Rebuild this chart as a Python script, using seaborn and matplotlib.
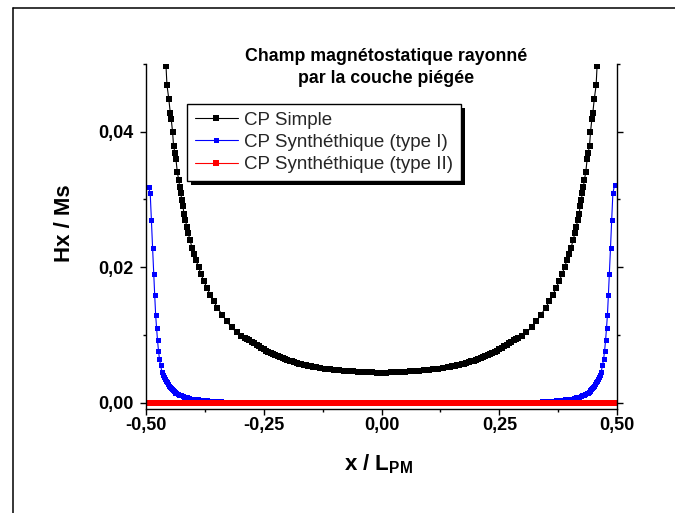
import matplotlib
matplotlib.use('Agg')
import matplotlib.pyplot as plt
import matplotlib.patheffects as pe
from matplotlib.lines import Line2D
from matplotlib.ticker import FixedLocator, FuncFormatter
import pandas as pd
import seaborn as sns

# CP Simple (black): steep left edge, dense middle, steep right edge
simple_x_left = [-0.460, -0.457, -0.455, -0.451, -0.448, -0.446, -0.443, -0.441, -0.438,
                 -0.436, -0.433, -0.430, -0.428, -0.426, -0.423, -0.421, -0.419, -0.416,
                 -0.413, -0.410, -0.406, -0.402, -0.397, -0.393, -0.388, -0.383, -0.377,
                 -0.370, -0.363, -0.356, -0.348, -0.338, -0.328, -0.318, -0.307, -0.298]
simple_hx_left = [0.0525, 0.0497, 0.0469, 0.0448, 0.0428, 0.0419, 0.0399, 0.0379, 0.0369,
                  0.0360, 0.0340, 0.0329, 0.0318, 0.0309, 0.0299, 0.0290, 0.0279, 0.0270,
                  0.0260, 0.0250, 0.0240, 0.0229, 0.0220, 0.0210, 0.0200, 0.0190, 0.0180,
                  0.0169, 0.0159, 0.0150, 0.0140, 0.0130, 0.0120, 0.0111, 0.0104, 0.0099]
simple_x_midleft = [-0.290, -0.285, -0.280, -0.275, -0.270, -0.265, -0.260, -0.255, -0.250, -0.245,
                    -0.240, -0.235, -0.230, -0.225, -0.220, -0.215, -0.210, -0.205, -0.200, -0.195,
                    -0.190, -0.185, -0.180, -0.175, -0.170, -0.165, -0.160, -0.155, -0.150, -0.145]
simple_hx_midleft = [0.00962, 0.00941, 0.00920, 0.00897, 0.00874, 0.00852, 0.00830, 0.00810, 0.00790, 0.00770,
                     0.00750, 0.00732, 0.00715, 0.00699, 0.00683, 0.00669, 0.00655, 0.00642, 0.00630, 0.00619,
                     0.00608, 0.00597, 0.00587, 0.00577, 0.00568, 0.00559, 0.00551, 0.00543, 0.00536, 0.00529]
simple_x_center = [-0.14, -0.13, -0.12, -0.11, -0.10, -0.09, -0.08, -0.07, -0.06, -0.05,
                   -0.04, -0.03, -0.02, -0.01, 0.00, 0.01, 0.02, 0.03, 0.04, 0.05,
                   0.06, 0.07, 0.08, 0.09, 0.10, 0.11, 0.12, 0.13, 0.14]
simple_hx_center = [0.00523, 0.00512, 0.00502, 0.00493, 0.00485, 0.00478, 0.00472, 0.00467, 0.00461, 0.00456,
                    0.00452, 0.00449, 0.00447, 0.00445, 0.00445, 0.00445, 0.00447, 0.00449, 0.00452, 0.00456,
                    0.00461, 0.00467, 0.00472, 0.00478, 0.00485, 0.00493, 0.00502, 0.00512, 0.00523]
simple_x_midright = [0.145, 0.150, 0.155, 0.160, 0.165, 0.170, 0.175, 0.180, 0.185, 0.190,
                     0.195, 0.200, 0.205, 0.210, 0.215, 0.220, 0.225, 0.230, 0.235, 0.240,
                     0.245, 0.250, 0.255, 0.260, 0.265, 0.270, 0.275, 0.280, 0.285, 0.290]
simple_hx_midright = [0.00529, 0.00536, 0.00543, 0.00551, 0.00559, 0.00568, 0.00577, 0.00587, 0.00597, 0.00608,
                      0.00619, 0.00630, 0.00642, 0.00655, 0.00669, 0.00683, 0.00699, 0.00715, 0.00732, 0.00750,
                      0.00770, 0.00790, 0.00810, 0.00830, 0.00852, 0.00874, 0.00897, 0.00920, 0.00941, 0.00962]
simple_x_right = [0.298, 0.307, 0.318, 0.328, 0.338, 0.348, 0.356, 0.363, 0.370,
                  0.377, 0.383, 0.388, 0.393, 0.397, 0.402, 0.406, 0.410, 0.413,
                  0.416, 0.419, 0.421, 0.423, 0.426, 0.428, 0.430, 0.433, 0.436,
                  0.438, 0.441, 0.443, 0.446, 0.448, 0.451, 0.455, 0.457, 0.460]
simple_hx_right = [0.0099, 0.0104, 0.0111, 0.0120, 0.0130, 0.0140, 0.0150, 0.0159, 0.0169,
                   0.0180, 0.0190, 0.0200, 0.0210, 0.0220, 0.0229, 0.0240, 0.0250, 0.0260,
                   0.0270, 0.0279, 0.0290, 0.0299, 0.0309, 0.0318, 0.0329, 0.0340, 0.0360,
                   0.0369, 0.0379, 0.0399, 0.0419, 0.0428, 0.0448, 0.0469, 0.0497, 0.0525]

# CP Synthethique type I (blue)
typeI_x_left = [-0.494, -0.4905, -0.488, -0.4855, -0.483, -0.481, -0.479, -0.477, -0.475, -0.473,
                -0.471, -0.4685, -0.4655, -0.463, -0.461, -0.459, -0.457, -0.455, -0.453, -0.451,
                -0.449, -0.447, -0.445, -0.443, -0.441, -0.439, -0.437, -0.435, -0.432, -0.429,
                -0.426, -0.422, -0.418, -0.413, -0.408, -0.400, -0.390, -0.380, -0.370, -0.360,
                -0.350, -0.340, -0.320, -0.300, -0.280, -0.250]
typeI_hx_left = [0.0319, 0.0309, 0.0270, 0.0229, 0.0190, 0.0159, 0.0130, 0.0110, 0.0092, 0.0077,
                 0.0065, 0.0055, 0.0045, 0.0041, 0.0038, 0.0035, 0.0032, 0.0030, 0.0027, 0.0025,
                 0.0023, 0.0021, 0.0020, 0.0018, 0.0017, 0.0016, 0.0015, 0.0014, 0.0013, 0.0012,
                 0.0011, 0.0010, 0.0009, 0.0008, 0.0007, 0.0006, 0.0005, 0.0004, 0.00035, 0.0003,
                 0.00025, 0.0002, 0.00015, 0.0001, 0.00008, 0.00005]
typeI_x_mid = [-0.20, -0.10, 0.00, 0.10, 0.20]
typeI_hx_mid = [0.00003, 0.00003, 0.00003, 0.00003, 0.00003]
typeI_x_right = [0.250, 0.280, 0.300, 0.320, 0.340, 0.350, 0.360, 0.370, 0.380, 0.390,
                 0.400, 0.408, 0.413, 0.418, 0.422, 0.426, 0.429, 0.432, 0.435, 0.437,
                 0.439, 0.441, 0.443, 0.445, 0.447, 0.449, 0.451, 0.453, 0.455, 0.457,
                 0.459, 0.461, 0.463, 0.4655, 0.4685, 0.471, 0.473, 0.475, 0.477, 0.479,
                 0.481, 0.483, 0.4855, 0.488, 0.4905, 0.494]
typeI_hx_right = [0.00005, 0.00008, 0.0001, 0.00015, 0.0002, 0.00025, 0.0003, 0.00035, 0.0004, 0.0005,
                  0.0006, 0.0007, 0.0008, 0.0009, 0.0010, 0.0011, 0.0012, 0.0013, 0.0014, 0.0015,
                  0.0016, 0.0017, 0.0018, 0.0020, 0.0021, 0.0023, 0.0025, 0.0027, 0.0030, 0.0032,
                  0.0035, 0.0038, 0.0041, 0.0045, 0.0055, 0.0065, 0.0077, 0.0092, 0.0110, 0.0130,
                  0.0159, 0.0190, 0.0229, 0.0270, 0.0309, 0.0321]

# CP Synthethique type II (red): flat at zero
typeII_x = [-0.50, -0.49, -0.48, -0.47, -0.46, -0.45, -0.44, -0.43, -0.42, -0.41,
            -0.40, -0.39, -0.38, -0.37, -0.36, -0.35, -0.34, -0.33, -0.32, -0.31,
            -0.30, -0.29, -0.28, -0.27, -0.26, -0.25, -0.24, -0.23, -0.22, -0.21,
            -0.20, -0.19, -0.18, -0.17, -0.16, -0.15, -0.14, -0.13, -0.12, -0.11,
            -0.10, -0.09, -0.08, -0.07, -0.06, -0.05, -0.04, -0.03, -0.02, -0.01,
            0.00, 0.01, 0.02, 0.03, 0.04, 0.05, 0.06, 0.07, 0.08, 0.09,
            0.10, 0.11, 0.12, 0.13, 0.14, 0.15, 0.16, 0.17, 0.18, 0.19,
            0.20, 0.21, 0.22, 0.23, 0.24, 0.25, 0.26, 0.27, 0.28, 0.29,
            0.30, 0.31, 0.32, 0.33, 0.34, 0.35, 0.36, 0.37, 0.38, 0.39,
            0.40, 0.41, 0.42, 0.43, 0.44, 0.45, 0.46, 0.47, 0.48, 0.49, 0.50]
typeII_hx = [0.0] * len(typeII_x)

sns.set_theme(style='ticks')
plt.rcParams['font.family'] = ['Liberation Sans', 'DejaVu Sans']
plt.rcParams['font.weight'] = 'bold'
plt.rcParams['mathtext.fontset'] = 'custom'
plt.rcParams['mathtext.rm'] = 'Liberation Sans:bold'
plt.rcParams['mathtext.bf'] = 'Liberation Sans:bold'

fig = plt.figure(figsize=(6.75, 5.13), dpi=100)
ax = fig.add_axes([0.2159, 0.2037, 0.6987, 0.6715])

simple_x = simple_x_left + simple_x_midleft + simple_x_center + simple_x_midright + simple_x_right
simple_hx = simple_hx_left + simple_hx_midleft + simple_hx_center + simple_hx_midright + simple_hx_right

series = [
    ('CP Simple', simple_x, simple_hx, 'black', 4.4),
    ('CP Synthéthique (type I)', typeI_x_left + typeI_x_mid + typeI_x_right,
     typeI_hx_left + typeI_hx_mid + typeI_hx_right, 'blue', 3.6),
    ('CP Synthéthique (type II)', typeII_x, typeII_hx, 'red', 3.7),
]
for label, xs, ys, color, ms in series:
    df = pd.DataFrame({'x': xs, 'hx': ys})
    sns.lineplot(data=df, x='x', y='hx', ax=ax, color=color, label=label,
                 marker='s', markersize=ms, markeredgewidth=0, linewidth=0.8,
                 sort=False, estimator=None)

ax.set_xlim(-0.5, 0.5)
ax.set_ylim(-0.00086, 0.05)
ax.xaxis.set_major_locator(FixedLocator([-0.5, -0.25, 0, 0.25, 0.5]))
ax.xaxis.set_minor_locator(FixedLocator([-0.375, -0.125, 0.125, 0.375]))
ax.yaxis.set_major_locator(FixedLocator([0, 0.02, 0.04]))
ax.yaxis.set_minor_locator(FixedLocator([0.01, 0.03, 0.05]))
fmt = FuncFormatter(lambda v, p: f'{(0.0 if abs(v) < 1e-9 else v):.2f}'.replace('.', ','))
ax.xaxis.set_major_formatter(fmt)
ax.yaxis.set_major_formatter(fmt)

ax.tick_params(which='major', direction='out', length=4.5, width=1, labelsize=13,
               right=True, top=False, labelright=False, color='black', labelcolor='black')
ax.tick_params(axis='x', which='major', pad=1.5)
ax.tick_params(axis='y', which='major', pad=4)
ax.tick_params(which='minor', direction='out', length=2.3, width=1, right=True, top=False,
               color='black')
ax.spines['top'].set_visible(False)
for s in ['left', 'right', 'bottom']:
    ax.spines[s].set_visible(True)
    ax.spines[s].set_linewidth(1.0)
    ax.spines[s].set_color('black')

ax.set_ylabel('Hx / Ms', fontsize=16, fontweight='bold', color='black')
ax.yaxis.set_label_coords(-0.150, 0.539)
ax.set_xlabel(r'x / L$_\mathbf{PM}$', fontsize=16, fontweight='bold', color='black')
ax.xaxis.set_label_coords(0.4935, -0.128)

leg = ax.legend(loc='upper left', bbox_to_anchor=(0.088, 0.884), borderaxespad=0,
                prop={'size': 13.5, 'weight': 'normal'}, frameon=True, fancybox=False,
                framealpha=1, edgecolor='black', handlelength=2.3, handletextpad=0.35,
                labelspacing=0.28, borderpad=0.4)
leg.get_frame().set_linewidth(1.0)
leg.get_frame().set_path_effects([pe.withSimplePatchShadow(offset=(3, -3),
                                  shadow_rgbFace='black', alpha=1.0)])

fig.text(386 / 675, 1 - 48 / 513, 'Champ magnétostatique rayonné\npar la couche piégée',
         ha='center', va='top', fontsize=12.8, fontweight='bold', linespacing=1.35,
         color='black')

# outer frame
fig.add_artist(Line2D([12.5 / 675, 12.5 / 675], [0, 1 - 7.5 / 513],
                      transform=fig.transFigure, color='black', lw=1.1))
fig.add_artist(Line2D([12.5 / 675, 1], [1 - 7.5 / 513, 1 - 7.5 / 513],
                      transform=fig.transFigure, color='black', lw=1.1))

fig.savefig('out.png', dpi=100)
